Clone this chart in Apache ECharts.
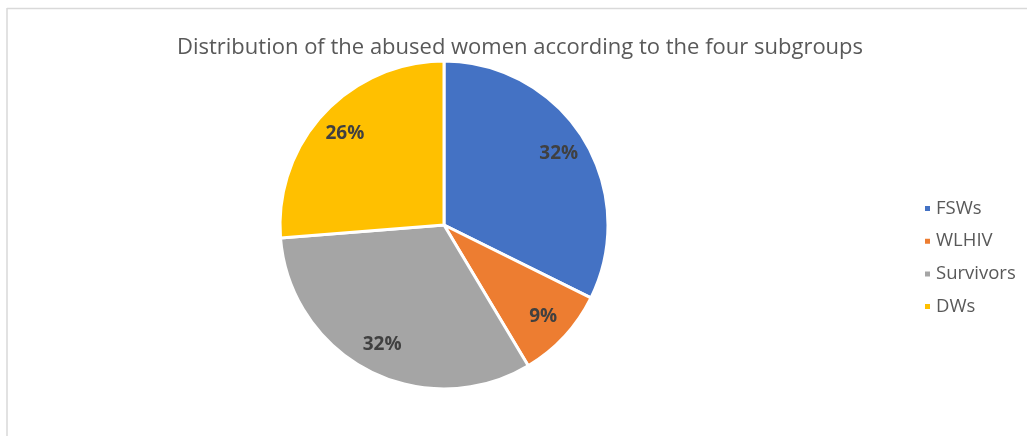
<!DOCTYPE html>
<html>
<head>
<meta charset="utf-8">
<script src="https://cdn.jsdelivr.net/npm/echarts@6/dist/echarts.min.js"></script>
<style>
  html, body { margin: 0; padding: 0; background: #fff; }
  #chart { width: 1027px; height: 436px; }
</style>
</head>
<body>
<div id="chart"></div>
<script>
// Subgroups and their share of abused women (percent)
const categories = ['FSWs', 'WLHIV', 'Survivors', 'DWs'];
const shares = [32, 9, 32, 26];
const colors = ['#4472C4', '#ED7D31', '#A5A5A5', '#FFC000'];
const titleText = 'Distribution of the abused women according to the four subgroups';

const pieData = categories.map((name, i) => ({ name, value: shares[i] }));
const center = [444, 225];
const outerR = 164;
const FONT = '"Open Sans", "Noto Sans", sans-serif';

const chart = echarts.init(document.getElementById('chart'), null, { renderer: 'canvas' });
chart.setOption({
  animation: false,
  color: colors,
  title: {
    text: titleText,
    left: 515,
    textAlign: 'center',
    top: 29,
    textStyle: { fontFamily: FONT, fontSize: 22, fontWeight: 'normal', color: '#595959', lineHeight: 28 }
  },
  legend: {
    orient: 'vertical',
    left: 918,
    top: 193.5,
    icon: 'rect',
    itemWidth: 7,
    itemHeight: 7,
    itemGap: 12.7,
    data: categories,
    textStyle: { fontFamily: FONT, fontSize: 18.5, color: '#595959', lineHeight: 20 }
  },
  graphic: [
    { type: 'line', shape: { x1: 7, y1: 8.5, x2: 1027, y2: 8.5 }, style: { stroke: '#d9d9d9', lineWidth: 1.5 }, silent: true },
    { type: 'line', shape: { x1: 7, y1: 8, x2: 7, y2: 436 }, style: { stroke: '#d9d9d9', lineWidth: 1.5 }, silent: true }
  ],
  series: [
    {
      name: 'share',
      type: 'pie',
      center: center,
      radius: [0, outerR],
      startAngle: 90,
      clockwise: true,
      label: { show: false },
      labelLine: { show: false },
      itemStyle: { borderColor: '#fff', borderWidth: 3 },
      emphasis: { disabled: true },
      data: pieData
    },
    {
      // transparent ring that places the percentage labels near the rim
      name: 'labels',
      type: 'pie',
      center: center,
      radius: [100, outerR],
      startAngle: 90,
      clockwise: true,
      silent: true,
      legendHoverLink: false,
      itemStyle: { color: 'rgba(0,0,0,0)' },
      label: {
        show: true,
        position: 'inside',
        formatter: '{c}%',
        fontFamily: FONT,
        fontSize: 19,
        fontWeight: 'bold',
        color: '#404040'
      },
      labelLine: { show: false },
      emphasis: { disabled: true },
      data: pieData
    }
  ]
});
</script>
</body>
</html>
